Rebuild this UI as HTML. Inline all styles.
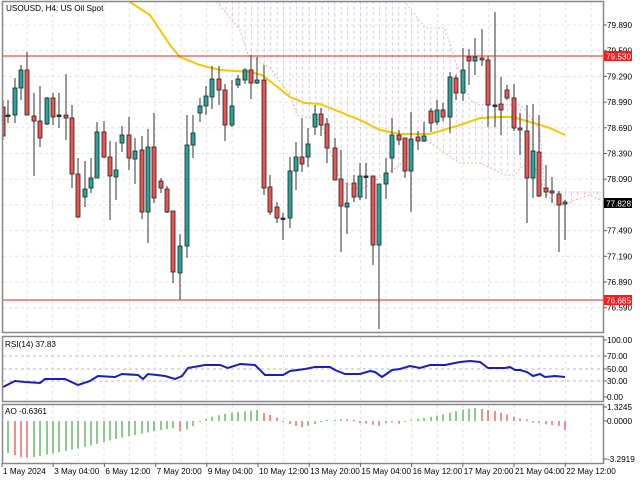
<!DOCTYPE html>
<html><head><meta charset="utf-8"><style>
body{margin:0;background:#fff;width:640px;height:480px;overflow:hidden}
svg{display:block}
text{font-family:"Liberation Sans","DejaVu Sans",sans-serif;font-size:8.2px;fill:#000}
</style></head><body>
<svg id="s" width="640" height="480" xmlns="http://www.w3.org/2000/svg">
<defs>
<pattern id="vp" x="1" width="6.4" height="6" patternUnits="userSpaceOnUse">
<line x1="1" y1="0.5" x2="1" y2="3.5" stroke="#d9bfe2" stroke-width="0.9"/>
</pattern>
<clipPath id="cm"><rect x="3" y="2" width="600" height="330"/></clipPath>
</defs>
<rect x="0" y="0" width="640" height="480" fill="#fff"/>
<g id="grid"></g>
<g clip-path="url(#cm)">
<polygon id="cloud" fill="url(#vp)" points=""/>
<polyline id="ctop" fill="none" stroke="#d8b8e0" stroke-width="1" stroke-dasharray="2,2" points=""/>
<polyline id="cbot" fill="none" stroke="#f2b48a" stroke-width="1" stroke-dasharray="2,2" points=""/>
<polyline fill="none" stroke="#f5c800" stroke-width="2" points="130,2 150,15 170,45 180,57 200,65 220,70 250,72 262,75 275,85 290,97 305,103 320,104 340,112 360,120 380,130 400,134 430,134 460,125 480,118 500,117 513,117 530,122 550,128 565,135"/>
<g id="candles"></g>
</g>
<line x1="3" y1="56" x2="603" y2="56" stroke="#ff1a1a" stroke-width="1"/>
<line x1="3" y1="300" x2="603" y2="300" stroke="#ff1a1a" stroke-width="1"/>
<polyline id="rsi" fill="none" stroke="#1a1ad0" stroke-width="2" points=""/>
<g id="ao"></g>
<rect x="2.5" y="1.5" width="601" height="331" fill="none" stroke="#888" stroke-width="1.5"/>
<rect x="2.5" y="336.5" width="601" height="65" fill="none" stroke="#888" stroke-width="1.5"/>
<rect x="2.5" y="404.5" width="601" height="59" fill="none" stroke="#888" stroke-width="1.5"/>
<text x="6" y="11">USOUSD, H4:  US Oil Spot</text>
<text x="5" y="347">RSI(14) 37.83</text>
<text x="5" y="414">AO -0.6361</text>
<g id="axis"></g>
<rect x="604" y="51" width="28" height="10" fill="#ff1a1a"/>
<text x="606" y="59.3" style="fill:#fff">79.530</text>
<rect x="604" y="295" width="28" height="10" fill="#ff1a1a"/>
<text x="606" y="303.3" style="fill:#fff">76.685</text>
<rect x="604" y="198" width="28" height="10" fill="#000"/>
<text x="606" y="206.3" style="fill:#fff">77.828</text>
</svg>
<script>
(function(){
var NS="http://www.w3.org/2000/svg";
function el(p,t,a){var e=document.createElementNS(NS,t);for(var k in a)e.setAttribute(k,a[k]);p.appendChild(e);return e;}
var grid=document.getElementById('grid'),axis=document.getElementById('axis');
var plab=["79.890","79.590","79.290","78.990","78.690","78.390","78.090","77.790","77.490","77.190","76.890","76.590"];
plab.forEach(function(l,i){var y=25+i*25.7;
 el(grid,'line',{x1:3,x2:603,y1:y,y2:y,stroke:'#e4e4e4','stroke-dasharray':'3,3'});
 el(axis,'line',{x1:603,x2:607,y1:y,y2:y,stroke:'#666'});
 if(i!=7){var t=el(axis,'text',{x:607,y:y+3});t.textContent=l;}});
for(var x=27;x<603;x+=25.65){
 el(grid,'line',{x1:x,x2:x,y1:2,y2:332,stroke:'#e4e4e4','stroke-dasharray':'3,3'});
 el(grid,'line',{x1:x,x2:x,y1:337,y2:401,stroke:'#e4e4e4','stroke-dasharray':'3,3'});
 el(grid,'line',{x1:x,x2:x,y1:405,y2:463,stroke:'#e4e4e4','stroke-dasharray':'3,3'});
}
[[70,356],[50,369],[30,381]].forEach(function(a){el(grid,'line',{x1:3,x2:603,y1:a[1],y2:a[1],stroke:'#bbb','stroke-dasharray':'3,3'});});
[["100.00",340],["70.00",356],["50.00",369],["30.00",381],["0.00",397],["1.3245",407],["0.0000",421],["-3.2919",459]].forEach(function(a){
 el(axis,'line',{x1:603,x2:607,y1:a[1],y2:a[1],stroke:'#666'});
 var t=el(axis,'text',{x:607,y:a[1]+3});t.textContent=a[0];});
var tl=["1 May 2024","3 May 04:00","6 May 12:00","7 May 20:00","9 May 04:00","10 May 12:00","13 May 20:00","15 May 04:00","16 May 12:00","17 May 20:00","21 May 04:00","22 May 12:00"];
tl.forEach(function(l,i){var x=2+i*51.2;el(axis,'line',{x1:x,x2:x,y1:463,y2:467,stroke:'#666'});
 var t=el(axis,'text',{x:x+1,y:474});t.textContent=l;});
var C=[[3,107,136,100,140],[8,115,115,100,123],[15,115,88,78,123],[21,88,70,65,100],[27,70,115,52,115],[34,116,121,93,176],[40,121,138,86,147],[47,124,98,97,125],[53,98,117,93,125],[59,115,115,93,128],[66,115,118,74,140],[72,118,174,105,188],[78,174,217,158,218],[85,197,189,161,207],[91,188,178,158,193],[97,178,132,122,178],[104,132,157,121,158],[110,157,176,141,220],[116,177,170,142,200],[122,143,135,126,152],[129,135,158,117,170],[135,159,151,138,184],[142,150,212,136,219],[148,212,147,129,243],[154,147,198,113,203],[161,181,188,178,193],[167,189,212,186,213],[173,211,272,211,283],[180,273,246,234,300],[187,246,145,115,258],[193,145,133,115,158],[200,113,106,98,122],[206,106,96,86,115],[212,97,79,66,109],[219,79,90,66,105],[225,90,125,84,141],[232,125,106,80,127],[238,85,79,75,88],[245,80,70,68,84],[251,70,83,55,99],[257,83,80,57,84],[264,80,188,65,195],[270,187,212,175,215],[277,207,218,202,223],[283,218,218,213,240],[290,218,171,157,228],[296,171,157,142,190],[302,157,164,118,172],[308,157,144,128,167],[315,127,114,105,135],[321,114,125,108,136],[327,124,148,118,163],[335,148,180,138,180],[341,179,206,150,252],[347,207,203,183,234],[354,183,197,175,202],[360,197,176,163,200],[366,176,176,163,199],[373,176,245,176,265],[379,245,184,184,329],[386,184,173,158,199],[392,158,135,118,173],[399,135,140,130,145],[405,138,171,138,178],[411,171,139,112,212],[418,137,141,131,150],[424,141,136,122,142],[431,111,123,108,132],[437,122,110,100,125],[443,110,117,103,121],[450,117,77,72,133],[456,78,93,75,100],[463,93,70,48,101],[469,57,61,49,85],[475,61,57,38,75],[482,58,60,29,66],[488,60,105,56,127],[495,105,105,12,127],[501,104,110,77,135],[507,90,98,85,100],[514,98,128,84,131],[520,128,130,113,155],[527,131,178,105,223],[533,178,151,104,198],[539,152,196,115,197],[546,188,192,165,198],[552,191,193,177,203],[559,194,205,191,252],[565,204,202,200,240]];
var cg=document.getElementById('candles');
C.forEach(function(c){var x=c[0],o=c[1],cl=c[2],h=c[3],l=c[4];
 el(cg,'line',{x1:x,x2:x,y1:h,y2:l,stroke:'#333','stroke-width':1});
 var tp=Math.min(o,cl),ht=Math.max(1.5,Math.abs(o-cl));
 var col=cl>o?'#ef5350':(cl<o?'#26a69a':'#333');
 el(cg,'rect',{x:x-2,y:tp,width:4,height:ht,fill:col,stroke:'#222','stroke-width':0.8});});
var cT=[[215,2],[405,2],[425,28],[445,28],[455,60],[470,100],[480,105],[500,105],[520,105],[525,110],[540,130],[545,192],[600,192],[600,200]];
var cB=[[600,200],[590,195],[575,200],[565,205],[555,205],[545,192],[535,168],[525,165],[520,168],[515,175],[505,175],[495,170],[480,163],[460,163],[440,150],[420,135],[400,165],[380,178],[360,190],[340,180],[330,150],[320,120],[297,115],[290,95],[270,68],[248,55],[240,30],[217,2]];
function pts(a){return a.map(function(p){return p.join(',');}).join(' ');}
document.getElementById('cloud').setAttribute('points',pts(cT.concat(cB)));
document.getElementById('ctop').setAttribute('points',pts(cT));
document.getElementById('cbot').setAttribute('points',pts(cB));
var R=[[3,387],[15,381],[25,382],[40,383],[45,379],[65,379],[78,385],[90,381],[98,376],[115,377],[122,374],[138,375],[143,379],[148,374],[165,376],[175,379],[182,376],[188,368],[205,365],[220,365],[228,368],[240,364],[255,365],[265,375],[283,375],[290,371],[305,369],[315,367],[330,367],[335,370],[345,374],[360,374],[370,371],[375,372],[382,377],[392,370],[400,369],[410,366],[420,368],[430,365],[445,365],[450,364],[460,362],[470,361],[480,362],[488,368],[495,368],[505,368],[510,367],[515,370],[520,370],[527,372],[533,376],[540,374],[545,377],[555,376],[565,377]];
document.getElementById('rsi').setAttribute('points',pts(R));
var K=[[8,453],[21,457],[30,458],[40,456],[60,452],[80,448],[100,443],[120,438],[140,434],[160,430],[175,428],[181,432],[190,428],[200,422],[210,417],[230,413],[248,411],[258,410],[264,413],[276,417],[283,421],[290,424],[296,426],[302,427],[315,424],[325,421],[345,419],[355,421],[360,423],[370,424],[378,426],[390,422],[400,424],[410,420],[430,417],[445,414],[460,410],[475,408],[482,409],[495,411],[505,414],[515,417],[525,420],[535,422],[545,424],[552,425],[560,426],[565,430]];
function interp(x){for(var i=0;i<K.length-1;i++){if(x>=K[i][0]&&x<=K[i+1][0]){var t=(x-K[i][0])/(K[i+1][0]-K[i][0]);return K[i][1]+t*(K[i+1][1]-K[i][1]);}}return x<K[0][0]?K[0][1]:K[K.length-1][1];}
var ag=document.getElementById('ao');var prev=null;
C.forEach(function(c,i){if(i==0)return;var x=c[0];var v=interp(x)-421;
 var col=(prev===null||v<prev)?'#4caf50':'#ef5350';prev=v;
 var y2=421+v+(Math.abs(v)<1?(v<0?-1:1):0);
 el(ag,'line',{x1:x,x2:x,y1:421,y2:y2,stroke:col,'stroke-width':1.3});});
})();
</script>
</body></html>
